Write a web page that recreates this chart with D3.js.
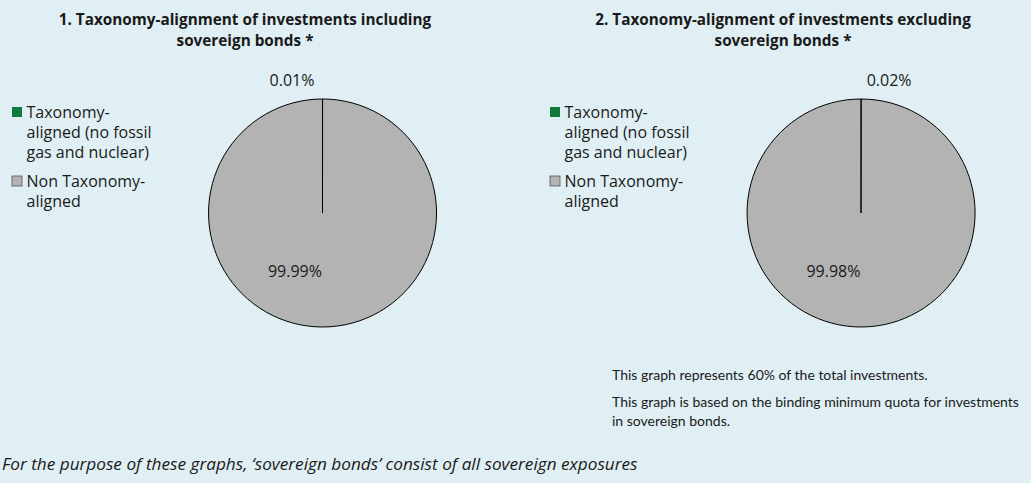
<!DOCTYPE html>
<html>
<head>
<meta charset="utf-8">
<script src="https://cdn.jsdelivr.net/npm/d3@7"></script>
<style>
  html, body { margin: 0; padding: 0; background: #e0eff3; }
  svg { display: block; }
  text { font-family: "Open Sans", Lato, sans-serif; fill: #1a1a1a; }
</style>
</head>
<body>
<svg id="chart" width="1031" height="483"></svg>
<script>
// ---- data ----
const categories = ["Taxonomy-aligned (no fossil gas and nuclear)", "Non Taxonomy-aligned"];
const legendLines = [["Taxonomy-", "aligned (no fossil", "gas and nuclear)"], ["Non Taxonomy-", "aligned"]];
const colors = ["#0f7a3c", "#b3b3b3"];
const chartTitles = [
  ["1. Taxonomy-alignment of investments including", "sovereign bonds *"],
  ["2. Taxonomy-alignment of investments excluding", "sovereign bonds *"]
];
const valuesIncluding = [0.01, 99.99];
const valuesExcluding = [0.02, 99.98];
const labelsIncluding = ["0.01%", "99.99%"];
const labelsExcluding = ["0.02%", "99.98%"];
const notes = [
  "This graph represents 60% of the total investments.",
  "This graph is based on the binding minimum quota for investments",
  "in sovereign bonds."
];
const footnote = "For the purpose of these graphs, \u2018sovereign bonds\u2019 consist of all sovereign exposures";

// ---- layout ----
const svg = d3.select("#chart");
const R = 114;
const panels = [
  { values: valuesIncluding, labels: labelsIncluding, title: chartTitles[0], titleX: 245, cx: 322.5, cy: 213, legendX: 12, smallDx: -30.5 },
  { values: valuesExcluding, labels: labelsExcluding, title: chartTitles[1], titleX: 783, cx: 861, cy: 213, legendX: 550, smallDx: 28 }
];

const pie = d3.pie().sort(null).value(d => d);
const arc = d3.arc().innerRadius(0).outerRadius(R);
const color = d3.scaleOrdinal().domain(categories).range(colors);

panels.forEach(p => {
  const g = svg.append("g");
  // title
  g.append("text")
    .attr("x", p.titleX).attr("y", 25)
    .attr("text-anchor", "middle")
    .style("font-weight", "bold").style("font-size", "15.3px")
    .selectAll("tspan").data(p.title).join("tspan")
    .attr("x", p.titleX).attr("dy", (d, i) => i === 0 ? 0 : 21)
    .text(d => d);

  // pie
  const pg = g.append("g").attr("transform", `translate(${p.cx},${p.cy})`);
  const arcs = pie(p.values);
  pg.selectAll("path").data(arcs).join("path")
    .attr("d", arc)
    .attr("fill", (d, i) => color(categories[i]))
    .attr("stroke", "#000")
    .attr("stroke-width", 1);

  // labels
  const outer = d3.arc().innerRadius(R + 12).outerRadius(R + 12);
  const inner = d3.arc().innerRadius(R * 1.04).outerRadius(R * 0.0);
  arcs.forEach((a, i) => {
    let x, y;
    if (i === 0) {
      const c = outer.centroid(a);
      x = c[0] + p.smallDx; y = c[1] - 1;
    } else {
      const c = inner.centroid(a);
      x = c[0] - 27.5; y = c[1] + 5;
    }
    pg.append("text")
      .attr("x", x).attr("y", y)
      .attr("text-anchor", "middle")
      .style("font-size", "16px")
      .text(p.labels[i]);
  });

  // legend
  const lg = g.append("g").attr("transform", `translate(${p.legendX},0)`);
  const itemY = [107, 176];
  legendLines.forEach((lines, i) => {
    lg.append("rect")
      .attr("x", 0).attr("y", itemY[i])
      .attr("width", 10).attr("height", 10)
      .attr("fill", color(categories[i]))
      .attr("stroke", i === 0 ? "none" : "#555")
      .attr("stroke-width", 0.8);
    lg.append("text")
      .attr("y", itemY[i] + 11)
      .style("font-size", "16px")
      .selectAll("tspan").data(lines).join("tspan")
      .attr("x", 14.5).attr("dy", (d, j) => j === 0 ? 0 : 20)
      .text(d => d);
  });
});

// notes
svg.append("text")
  .style("font-size", "14px")
  .style("font-family", "Lato, 'Open Sans', sans-serif")
  .selectAll("tspan").data(notes).join("tspan")
  .attr("x", 612)
  .attr("y", (d, i) => [380, 407, 426][i])
  .text(d => d);

svg.append("text")
  .attr("x", 2).attr("y", 470)
  .style("font-size", "17.2px").style("font-style", "italic")
  .text(footnote);
</script>
</body>
</html>
